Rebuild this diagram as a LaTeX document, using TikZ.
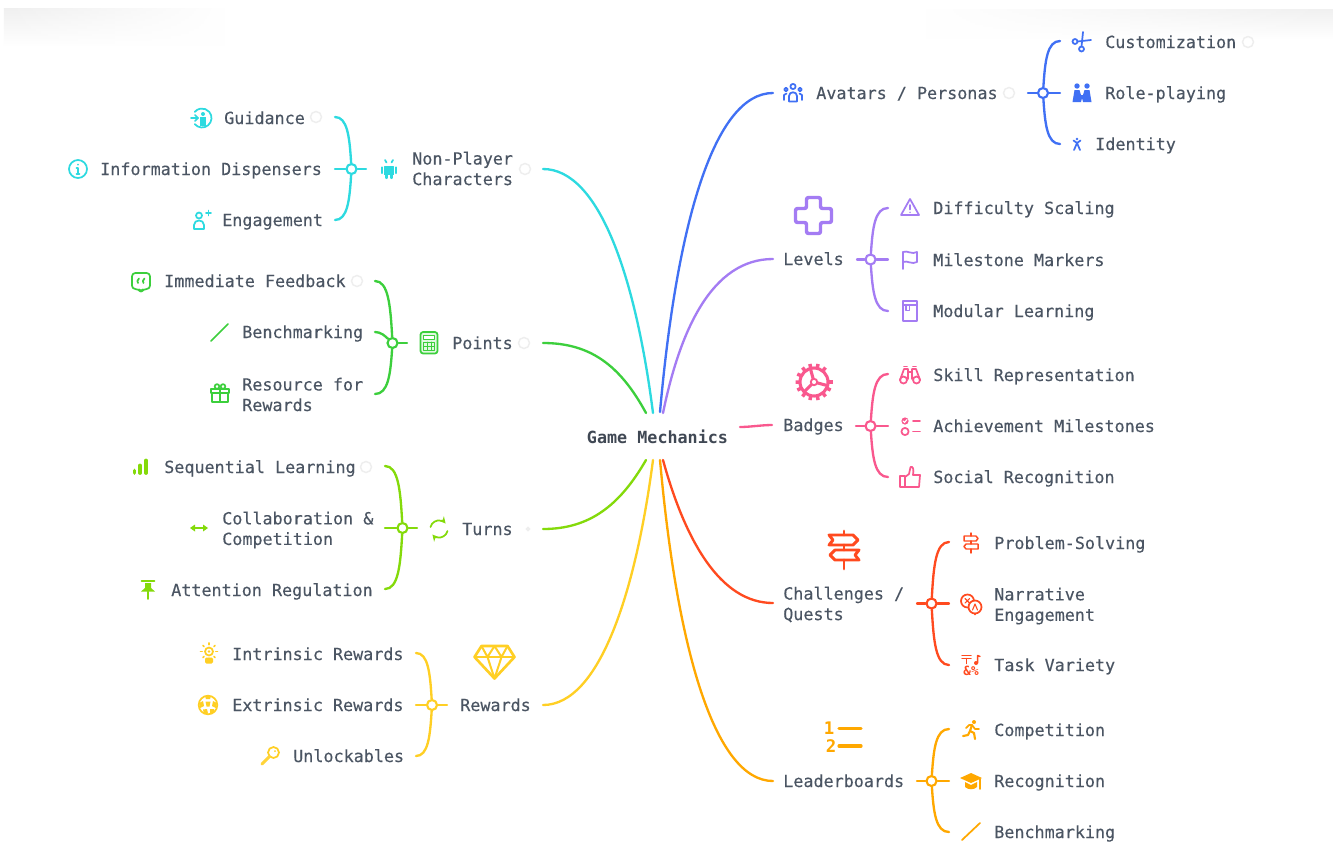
\documentclass[tikz,border=0pt]{standalone}
\usepackage{fontspec}
\setmainfont{DejaVu Sans Mono}
\newfontfamily\labf{DejaVu Sans Mono}[FakeBold=0.25]
\usetikzlibrary{calc,arrows.meta,fadings}
\definecolor{cBlue}{HTML}{4070F4}
\definecolor{cPurple}{HTML}{A47CF3}
\definecolor{cPink}{HTML}{F9588E}
\definecolor{cRed}{HTML}{FF4A1F}
\definecolor{cOrange}{HTML}{FFA800}
\definecolor{cYellow}{HTML}{FFCF24}
\definecolor{cLime}{HTML}{84DA0A}
\definecolor{cGreen}{HTML}{3CCF3C}
\definecolor{cCyan}{HTML}{2DDAE0}
\definecolor{cText}{HTML}{4B5563}
\definecolor{cRing}{HTML}{EEEEEE}
\tikzset{
  lab/.style={anchor=west,inner sep=0pt,text=cText,font=\labf\fontsize{12.55}{15.4}\selectfont,text height=10.5pt,text depth=1.5pt},
  labm/.style={anchor=west,inner sep=0pt,text=cText,font=\labf\fontsize{12.55}{15.4}\selectfont,align=left},
  rootlab/.style={inner sep=0pt,text=cText!85!black,font=\fontsize{12.55}{15.4}\selectfont\bfseries},
  cn/.style={draw=#1,line width=1.75pt,line cap=round},
  hub/.style={circle,draw=#1,fill=white,line width=1.6pt,minimum size=7.5pt,inner sep=0pt},
  ring/.style={draw=cRing,line width=1.1pt},
}
\newcommand{\Fan}[7]{% id, colour, hx, hy, tipx, topy, boty
  \node[hub=#2] (#1) at (#3,#4) {};
  \coordinate (#1t) at (#5,#6);
  \coordinate (#1u) at (#5,#7);
  \draw[cn=#2] (#1) .. controls ($(#1.center)!0.62!(#1.center|-#1t)+0.12*(#5-#3,0)$) and ($(#1.center|-#1t)!0.25!(#1t)$) .. (#1t);
  \draw[cn=#2] (#1) .. controls ($(#1.center)!0.62!(#1.center|-#1u)+0.12*(#5-#3,0)$) and ($(#1.center|-#1u)!0.25!(#1u)$) .. (#1u);
}
\newcommand{\Ic}[3]{\begin{scope}[shift={(#1)},line width=1.3pt,draw=#2,fill=#2,line cap=round,line join=round] #3 \end{scope}}
\newcommand{\Lab}[3]{\node[lab] (#1) at (#2) {#3};}
\newcommand{\Labm}[3]{\node[labm] (#1) at (#2) {#3};}
\begin{document}
\begin{tikzpicture}[x=0.75pt,y=-0.75pt]
\useasboundingbox (0,0) rectangle (1333,843);
\fill[white] (0,0) rectangle (1333,843);
% faint shadows at the top corners
\shade[top color=black!6,bottom color=white,path fading=east] (4,9) rectangle (225,47);
\shade[top color=black!6,bottom color=white,path fading=west] (925,9) rectangle (1333,40);
% root
\node[rootlab] (root) at (657.5,437) {Game Mechanics};
% free ends near the root
\coordinate (rBlue) at (660,412);
\coordinate (rPurple) at (663,413);
\coordinate (rCyan) at (653,413);
\coordinate (rGreen) at (646,413);
\coordinate (rPink) at (740,427);
\coordinate (rLime) at (646,460);
\coordinate (rYellow) at (653,460);
\coordinate (rOrange) at (660,460);
\coordinate (rRed) at (663,460);
% outer ends
\coordinate (eBlue) at (773,93);
\coordinate (ePurple) at (773,259);
\coordinate (ePink) at (772,425);
\coordinate (eRed) at (773,603);
\coordinate (eOrange) at (773,781);
\coordinate (eCyan) at (543,169);
\coordinate (eGreen) at (543,343);
\coordinate (eLime) at (543,529);
\coordinate (eYellow) at (543,705);
\draw[cn=cBlue] (rBlue) .. controls (677,220) and (715,93) .. (eBlue);
\draw[cn=cPurple] (rPurple) .. controls (680,330) and (712,259) .. (ePurple);
\draw[cn=cPink] (rPink) .. controls (750,427) and (762,425) .. (ePink);
\draw[cn=cRed] (rRed) .. controls (685,540) and (720,603) .. (eRed);
\draw[cn=cOrange] (rOrange) .. controls (677,650) and (715,781) .. (eOrange);
\draw[cn=cCyan] (rCyan) .. controls (636,280) and (600,169) .. (eCyan);
\draw[cn=cGreen] (rGreen) .. controls (620,365) and (590,343) .. (eGreen);
\draw[cn=cLime] (rLime) .. controls (620,505) and (590,529) .. (eLime);
\draw[cn=cYellow] (rYellow) .. controls (636,590) and (600,705) .. (eYellow);
% hubs and braces
\Fan{hAv}{cBlue}{1043}{93}{1060}{41}{144}
\Fan{hLv}{cPurple}{870.5}{259.5}{888}{208}{311}
\Fan{hBd}{cPink}{870.5}{426}{888}{374}{477}
\Fan{hCh}{cRed}{931.5}{603.5}{949}{542}{665}
\Fan{hLd}{cOrange}{931.5}{781}{949}{729}{832}
\Fan{hNp}{cCyan}{351.5}{169}{335}{117}{220}
\Fan{hPt}{cGreen}{392.5}{343}{375}{281}{394}
\Fan{hTn}{cLime}{402.5}{528}{385}{466}{589}
\Fan{hRw}{cYellow}{432}{705}{416}{653}{756}
% stubs
\coordinate (sAvL) at (1028,93); \coordinate (sAvR) at (1060,93);
\coordinate (sLvL) at (857,259.5); \coordinate (sLvR) at (888,259.5);
\coordinate (sBdL) at (856,426); \coordinate (sBdR) at (888,426);
\coordinate (sChL) at (917,603.5); \coordinate (sChR) at (949,603.5);
\coordinate (sLdL) at (917,781); \coordinate (sLdR) at (949,781);
\coordinate (sNpL) at (335,169); \coordinate (sNpR) at (366,169);
\coordinate (sPtM) at (375,332); \coordinate (sPtR) at (407,343);
\coordinate (sTnL) at (385,528); \coordinate (sTnR) at (417,528);
\coordinate (sRwL) at (416,705); \coordinate (sRwR) at (447,705);
\draw[cn=cBlue] (sAvL) -- (hAv) -- (sAvR);
\draw[cn=cPurple] (sLvL) -- (hLv) -- (sLvR);
\draw[cn=cPink] (sBdL) -- (hBd) -- (sBdR);
\draw[cn=cRed] (sChL) -- (hCh) -- (sChR);
\draw[cn=cOrange] (sLdL) -- (hLd) -- (sLdR);
\draw[cn=cCyan] (sNpL) -- (hNp) -- (sNpR);
\draw[cn=cGreen] (sPtM) .. controls (381,332) and (385,336) .. (hPt);
\draw[cn=cGreen] (hPt) -- (sPtR);
\draw[cn=cLime] (sTnL) -- (hTn) -- (sTnR);
\draw[cn=cYellow] (sRwL) -- (hRw) -- (sRwR);
% labels right
\Lab{lAv}{816,93}{Avatars / Personas}
\Lab{lCu}{1105,42}{Customization}
\Lab{lRo}{1105,93}{Role-playing}
\Lab{lId}{1095,144}{Identity}
\Lab{lLv}{783,259}{Levels}
\Lab{lDi}{933,208}{Difficulty Scaling}
\Lab{lMi}{933,260}{Milestone Markers}
\Lab{lMo}{933,311}{Modular Learning}
\Lab{lBd}{783,425}{Badges}
\Lab{lSk}{933,375}{Skill Representation}
\Lab{lAc}{933,426}{Achievement Milestones}
\Lab{lSo}{933,477}{Social Recognition}
\Labm{lCh}{783,604.5}{Challenges /\\Quests}
\Lab{lPr}{994,543}{Problem-Solving}
\Labm{lNa}{994,606}{Narrative\\Engagement}
\Lab{lTa}{994,665}{Task Variety}
\Lab{lLd}{783,781}{Leaderboards}
\Lab{lCo}{994,730}{Competition}
\Lab{lRe}{994,781}{Recognition}
\Lab{lBe}{994,832}{Benchmarking}
% labels left
\Lab{lGu}{224,118}{Guidance}
\Lab{lIn}{100,169}{Information Dispensers}
\Lab{lEn}{222,220}{Engagement}
\Labm{lNp}{412,168.5}{Non-Player\\Characters}
\Lab{lIm}{164,281}{Immediate Feedback}
\Lab{lBm}{242,332}{Benchmarking}
\Labm{lRs}{242,394.5}{Resource for\\Rewards}
\Lab{lPt}{452,343}{Points}
\Lab{lSe}{164,467}{Sequential Learning}
\Labm{lCl}{222,530}{Collaboration \&\\Competition}
\Lab{lAt}{171,590}{Attention Regulation}
\Lab{lTn}{462,529}{Turns}
\Lab{lIr}{232,654}{Intrinsic Rewards}
\Lab{lEr}{232,705}{Extrinsic Rewards}
\Lab{lUn}{293,756}{Unlockables}
\Lab{lRw}{460,705}{Rewards}
% faint rings
\draw[ring] (316,117) circle[radius=5.5];
\draw[ring] (525,169) circle[radius=5.5];
\draw[ring] (524,343) circle[radius=5.5];
\draw[ring] (357,281) circle[radius=5.5];
\draw[ring] (366,467) circle[radius=5.5];
\draw[ring] (528,529) circle[radius=1.5];
\draw[ring] (1009,93) circle[radius=5.5];
\draw[ring] (1248,42) circle[radius=5.5];
% ---- icons right
\Ic{793,93}{cBlue}{
  \draw (0,-6.5) circle[radius=2.6];
  \draw (-7,-3.5) circle[radius=1.8];
  \draw (7,-3.5) circle[radius=1.8];
  \draw (-4,8.5) -- (-4,3) .. controls (-4,-2) and (4,-2) .. (4,3) -- (4,8.5) -- cycle;
  \draw (-9,7) -- (-9,2) -- (-6.5,0.5);
  \draw (9,7) -- (9,2) -- (6.5,0.5);
}
\Ic{1082,42}{cBlue}{
  \draw (1,-10) -- (-0.5,4.5);
  \draw (9,-2) -- (-4.5,-0.5);
  \draw (-0.5,7) circle[radius=2.5];
  \draw (-7,-0.5) circle[radius=2.5];
}
\Ic{1082,93}{cBlue}{
  \fill (-5,-7) circle[radius=2.7];
  \fill (5,-7) circle[radius=2.7];
  \fill (-9.5,9) -- (-7.5,-3) -- (-2.5,-3) -- (-1,2) -- (1,2) -- (2.5,-3) -- (7.5,-3) -- (9.5,9) -- (1,9) -- (0,5) -- (-1,9) -- cycle;
}
\Ic{1077,144}{cBlue}{
  \fill (0,-5) circle[radius=1.4];
  \draw (-3.5,-3.5) -- (0,-1) -- (3.5,-3.5);
  \draw (0,-1) -- (-3,6);
  \draw (0,-1) -- (3,6);
}
\Ic{813.5,215.5}{cPurple}{
  \draw[line width=2.6pt,rounded corners=1.5pt] (-7,-18) -- (7,-18) -- (7,-7) -- (18,-7) -- (18,7) -- (7,7) -- (7,18) -- (-7,18) -- (-7,7) -- (-18,7) -- (-18,-7) -- (-7,-7) -- cycle;
}
\Ic{910,208}{cPurple}{
  \draw (0,-9) -- (9,7) -- (-9,7) -- cycle;
  \draw (0,-3) -- (0,1.5);
  \fill (0,4.3) circle[radius=0.8];
}
\Ic{910,260}{cPurple}{
  \draw (-7,-8) -- (-7,9);
  \draw (-7,-8) .. controls (-3,-10) and (2,-5) .. (7,-8) -- (7,2) .. controls (2,5) and (-3,0) .. (-7,2);
}
\Ic{910,311}{cPurple}{
  \draw (-7,-10) rectangle (7,10);
  \draw (-7,-6) -- (7,-6);
  \draw (-4,-6) rectangle (-0.5,-0.5);
}
\Ic{814,382}{cPink}{
  \draw[line width=2.3pt] (0,0) circle[radius=14];
  \foreach \a in {0,25.7,...,334} {\draw[line width=2.6pt,line cap=butt] (\a:14) -- (\a:18.5);}
  \draw[line width=2.3pt] (15:14) -- (15:3) (135:14) -- (135:3) (255:14) -- (255:3);
  \draw[line width=1.4pt,fill=white] (0,0) circle[radius=3.2];
}
\Ic{910,375}{cPink}{
  \draw (-6.5,5) circle[radius=3.5];
  \draw (6.5,5) circle[radius=3.5];
  \draw (-10,5) -- (-6,-6) -- (-2,-6) -- (-2,4);
  \draw (10,5) -- (6,-6) -- (2,-6) -- (2,4);
  \draw (-2,-3) -- (2,-3);
  \draw (-6,-8.5) -- (-3,-8.5) (3,-8.5) -- (6,-8.5);
}
\Ic{910,426}{cPink}{
  \fill (-5,-5) circle[radius=3.6];
  \draw[white,line width=0.8pt] (-7,-5) -- (-5.5,-3.5) -- (-3,-6.5);
  \draw (-5,5.5) circle[radius=3.6];
  \draw (3,-5) -- (10,-5);
  \draw (3,5.5) -- (10,5.5);
}
\Ic{910,477}{cPink}{
  \draw (-10,-1) rectangle (-5,10);
  \draw (-5,0) -- (-1,-3) -- (0.5,-10) .. controls (3,-11) and (4,-8) .. (3,-2) -- (10,-2) -- (9,10) -- (-5,10);
}
\Ic{844,550}{cRed}{
  \draw[line width=2.2pt] (-15,-15) -- (9,-15) -- (14,-10) -- (9,-5) -- (-15,-5) -- (-11,-10) -- cycle;
  \draw[line width=2.2pt] (-9,0) -- (15,0) -- (11,5) -- (15,10) -- (-9,10) -- (-14,5) -- cycle;
  \draw[line width=2.2pt] (0,-19) -- (0,-15) (0,-5) -- (0,0) (0,10) -- (0,19);
}
\Ic{971,543}{cRed}{
  \draw[line width=1.1pt] (-7,-7) -- (5,-7) -- (7,-4.5) -- (5,-2) -- (-7,-2) -- cycle;
  \draw[line width=1.1pt] (-5,1) -- (7,1) -- (7,6) -- (-5,6) -- (-7,3.5) -- cycle;
  \draw[line width=1.1pt] (0,-10) -- (0,-7) (0,-2) -- (0,1) (0,6) -- (0,10);
}
\Ic{971,604}{cRed}{
  \draw (-3.5,-3) circle[radius=6.5];
  \draw[fill=white] (4,3) circle[radius=6.5];
  \draw[line width=0.8pt] (-6,-5.5) -- (-1.5,-1) (-1.5,-5.5) -- (-6,-1);
  \draw[line width=0.8pt] (1.5,6) -- (4,0) -- (6.5,6);
  \draw (4,9.5) -- (4,10.5);
}
\Ic{971,665}{cRed}{
  \draw[line width=1.1pt] (-9,-9.5) -- (0,-9.5);
  \draw[line width=1.1pt] (-9,-6.5) -- (0,-6.5);
  \draw[line width=1.1pt] (-4.5,-6.5) -- (-4.5,-1.5);
  \fill (5,-2) circle[radius=2];
  \draw[line width=1.1pt] (6.7,-2) -- (6.7,-9.5) -- (9,-8.5);
  \node[inner sep=0pt,text=cRed,font=\fontsize{9.5}{10}\selectfont\bfseries] (iconAmp) at (0,6) {\&\%};
}
\Ic{844,737}{cOrange}{
  \node[inner sep=0pt,text=cOrange,font=\fontsize{13}{13}\selectfont\bfseries] (iconOne) at (-15,-9) {1};
  \node[inner sep=0pt,text=cOrange,font=\fontsize{13}{13}\selectfont\bfseries] (iconTwo) at (-13,9) {2};
  \draw[line width=2.4pt] (-5,-8.5) -- (17,-8.5);
  \draw[line width=2.4pt] (-5,9) -- (17,9);
}
\Ic{971,730}{cOrange}{
  \fill (3,-8) circle[radius=2];
  \draw[line width=1.6pt] (1,-5) -- (-1,1) -- (3,3) -- (4,9);
  \draw[line width=1.6pt] (-1,1) -- (-3,5) -- (-8,6);
  \draw[line width=1.3pt] (-5,-2) -- (-2,-5) -- (1,-5) -- (4,-1) -- (8,-1);
}
\Ic{971,781}{cOrange}{
  \fill (-11,-3) -- (0,-8) -- (11,-3) -- (0,2) -- cycle;
  \fill (-6,1) -- (0,4) -- (6,1) -- (6,6) .. controls (3,9) and (-3,9) .. (-6,6) -- cycle;
  \draw (9,-2) -- (9,8);
}
\coordinate (slashA) at (962,840); \coordinate (slashB) at (980,823);
\draw[cOrange,line width=1.3pt,line cap=round] (slashA) -- (slashB);
% ---- icons left
\Ic{202,118}{cCyan}{
  \draw (140:9.5) arc[start angle=140,end angle=-140,radius=9.5];
  \fill (1,-4) circle[radius=2];
  \fill (-2,-1) -- (4,-1) -- (4,8) -- (-2,8) -- cycle;
  \draw (-11,0) -- (-4,0);
  \draw (-7,-3) -- (-4,0) -- (-7,3);
}
\Ic{78,169}{cCyan}{
  \draw (0,0) circle[radius=9];
  \fill (0,-4.5) circle[radius=1];
  \draw (-1.5,-1) -- (0,-1) -- (0,5) (-1.5,5) -- (1.5,5);
}
\Ic{201,220}{cCyan}{
  \draw (-2,-4.5) circle[radius=3];
  \draw (-7,9) -- (-7,5) .. controls (-7,-1) and (3,-1) .. (3,5) -- (3,9) -- cycle;
  \draw (5,-7) -- (10,-7) (7.5,-9.5) -- (7.5,-4.5);
}
\Ic{389,169}{cCyan}{
  \fill (-5,-2) rectangle (5,6);
  \fill (-5,-3) arc[start angle=180,end angle=0,radius=5] -- cycle;
  \draw (-4,-9) -- (-2.5,-6.5) (4,-9) -- (2.5,-6.5);
  \draw[line width=1.7pt] (-7,-1.5) -- (-7,4) (7,-1.5) -- (7,4);
  \draw[line width=1.7pt] (-2.5,6) -- (-2.5,9) (2.5,6) -- (2.5,9);
  \fill[white] (-2,-5) circle[radius=0.7] (2,-5) circle[radius=0.7];
}
\Ic{141,282}{cGreen}{
  \draw[rounded corners=2.5pt] (-9,-9) -- (9,-9) -- (9,7) -- (2.5,7) -- (0,10) -- (-2.5,7) -- (-9,7) -- cycle;
  \draw[line width=1.3pt] (-2,-3.5) .. controls (-4,-2) and (-4,0) .. (-3,1) (3.5,-3.5) .. controls (1.5,-2) and (1.5,0) .. (2.5,1);
}
\coordinate (slashC) at (211,341); \coordinate (slashD) at (228,324);
\draw[cGreen,line width=1.3pt,line cap=round] (slashC) -- (slashD);
\Ic{220,394}{cGreen}{
  \draw (-9,-5) rectangle (9,-1);
  \draw (-8,-1) rectangle (8,8);
  \draw (0,-5) -- (0,8);
  \draw (-3,-7.5) circle[radius=2.3];
  \draw (3,-7.5) circle[radius=2.3];
}
\Ic{429,343}{cGreen}{
  \draw[rounded corners=2pt,fill=cGreen!15] (-8.5,-11) rectangle (8.5,10.5);
  \draw[line width=0.7pt,fill=white] (-5.5,-8) rectangle (5.5,-4);
  \draw[line width=0.6pt] (-5.5,-1) rectangle (5.5,7);
  \draw[line width=0.6pt] (-5.5,3) -- (5.5,3) (-2,-1) -- (-2,7) (2,-1) -- (2,7);
}
\Ic{140,467}{cLime}{
  \draw[line width=2.8pt] (-5.5,3.5) -- (-5.5,6);
  \draw[line width=2.8pt] (0,-1.5) -- (0,6);
  \draw[line width=2.8pt] (6,-6.5) -- (6,6);
}
\Ic{199,528}{cLime}{
  \draw (-6,0) -- (6,0);
  \fill (-9,0) -- (-4,-3.5) -- (-4,3.5) -- cycle;
  \fill (9,0) -- (4,-3.5) -- (4,3.5) -- cycle;
}
\Ic{148,590}{cLime}{
  \draw (-6.5,-9) -- (6.5,-9);
  \fill (-3,-7) -- (3,-7) -- (3,-2) -- (7,1.5) -- (-7,1.5) -- (-3,-2) -- cycle;
  \draw (0,1.5) -- (0,9);
}
\Ic{439,529}{cLime}{
  \draw[-{Stealth[length=5pt,width=5pt]}] (-8.5,-2) arc[start angle=194,end angle=320,radius=8.7];
  \draw[-{Stealth[length=5pt,width=5pt]}] (8.5,2) arc[start angle=14,end angle=140,radius=8.7];
}
\Ic{209,653.5}{cYellow}{
  \draw (0,-2) circle[radius=4];
  \fill (0,-2) circle[radius=1.4];
  \foreach \a in {0,45,...,315} {\draw[line width=1.1pt] ($(0,-2)+(\a:6.8)$) -- ($(0,-2)+(\a:8.6)$);}
  \fill[rounded corners=1pt] (-4,4) rectangle (4,10);
}
\Ic{208,705}{cYellow}{
  \draw (0,0) circle[radius=9.3];
  \fill (-2.5,-3.5) -- (2.5,-3.5) -- (1.5,1.5) -- (-1.5,1.5) -- cycle;
  \fill (-9,-2) -- (-5,-4) -- (-4,1) -- (-8,3) -- cycle;
  \fill (9,-2) -- (5,-4) -- (4,1) -- (8,3) -- cycle;
  \fill (-4,9) -- (-5,4.5) -- (-1,4) -- (0,8.5) -- cycle;
  \fill (6,7) -- (2,8.5) -- (2,4) -- (6,4) -- cycle;
  \fill (-3,-9) -- (3,-9) -- (2,-6) -- (-2,-6) -- cycle;
}
\Ic{270,756}{cYellow}{
  \draw (3.5,-3.5) circle[radius=5.5];
  \fill (5,-5) circle[radius=1];
  \draw[line width=2.2pt,cYellow!90!white] (-0.5,0.5) -- (-8,8);
}
\Ic{494.5,662}{cYellow}{
  \draw[line width=2pt] (-13,-16) -- (13,-16) -- (20,-5) -- (0,16.5) -- (-20,-5) -- cycle;
  \draw[line width=1.5pt] (-20,-5) -- (20,-5);
  \draw[line width=1.5pt] (-13,-16) -- (-7,-5) -- (0,-16) -- (7,-5) -- (13,-16);
  \draw[line width=1.5pt] (-7,-5) -- (0,16.5) -- (7,-5);
}
\end{tikzpicture}
\end{document}
